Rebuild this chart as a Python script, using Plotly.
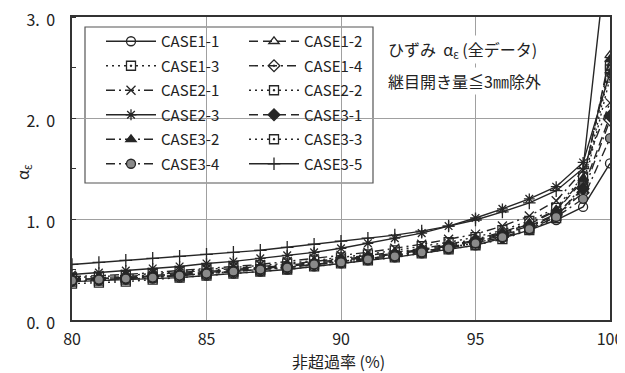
import plotly.graph_objects as go

x_vals = [80, 81, 82, 83, 84, 85, 86, 87, 88, 89, 90, 91, 92, 93, 94, 95, 96, 97, 98, 99, 100]

case1_1 = [0.38,0.39,0.40,0.41,0.42,0.44,0.46,0.48,0.50,0.53,0.56,0.59,0.62,0.66,0.70,0.74,0.81,0.89,0.99,1.12,1.55]
case1_2 = [0.40,0.41,0.42,0.44,0.46,0.48,0.50,0.52,0.54,0.57,0.60,0.63,0.66,0.70,0.74,0.79,0.86,0.95,1.08,1.38,2.62]
case1_3 = [0.42,0.43,0.44,0.46,0.48,0.50,0.52,0.54,0.56,0.59,0.62,0.65,0.69,0.73,0.77,0.82,0.89,0.98,1.11,1.42,2.52]
case1_4 = [0.39,0.40,0.41,0.43,0.44,0.46,0.48,0.50,0.52,0.55,0.58,0.61,0.64,0.68,0.72,0.77,0.84,0.92,1.04,1.26,1.98]
case2_1 = [0.43,0.44,0.45,0.47,0.49,0.51,0.53,0.55,0.58,0.61,0.64,0.67,0.71,0.75,0.80,0.85,0.93,1.03,1.18,1.48,2.15]
case2_2 = [0.36,0.37,0.38,0.40,0.42,0.44,0.46,0.48,0.50,0.53,0.56,0.59,0.62,0.66,0.70,0.74,0.80,0.89,1.01,1.30,2.40]
case2_3 = [0.45,0.47,0.49,0.51,0.53,0.56,0.58,0.61,0.64,0.67,0.71,0.76,0.81,0.86,0.93,1.01,1.10,1.20,1.32,1.56,2.45]
case3_1 = [0.40,0.41,0.42,0.43,0.45,0.47,0.49,0.51,0.53,0.56,0.59,0.62,0.65,0.69,0.73,0.78,0.85,0.93,1.05,1.30,2.02]
case3_2 = [0.41,0.42,0.43,0.45,0.47,0.49,0.51,0.53,0.55,0.58,0.61,0.64,0.67,0.71,0.75,0.80,0.87,0.96,1.09,1.40,2.58]
case3_3 = [0.38,0.39,0.40,0.42,0.44,0.46,0.48,0.50,0.52,0.55,0.58,0.61,0.64,0.68,0.72,0.76,0.83,0.91,1.03,1.33,2.48]
case3_4 = [0.39,0.40,0.41,0.42,0.44,0.46,0.48,0.50,0.52,0.55,0.57,0.60,0.63,0.67,0.71,0.76,0.82,0.90,1.02,1.20,1.80]
case3_5 = [0.55,0.57,0.59,0.61,0.63,0.65,0.67,0.69,0.72,0.75,0.78,0.81,0.84,0.88,0.93,0.99,1.07,1.16,1.28,1.50,3.90]

y_tickvals = [0, 1, 2, 3]
y_ticktext = ["0.\u2009\u20090", "1.\u2009\u20090", "2.\u2009\u20090", "3.\u2009\u20090"]
x_tickvals = [80, 85, 90, 95, 100]

INK = "#262626"
DASH = "9px,5px"
DASHDOT = "9px,4px,2px,4px"
DOT = "2px,4px"

series = [
    ("CASE1-1", case1_1, "solid", "circle-open", INK, "legend"),
    ("CASE1-2", case1_2, DASH, "triangle-up-open", INK, "legend2"),
    ("CASE1-3", case1_3, DOT, "square-open-dot", INK, "legend"),
    ("CASE1-4", case1_4, DASHDOT, "diamond-open-dot", INK, "legend2"),
    ("CASE2-1", case2_1, DASHDOT, "x-thin-open", INK, "legend"),
    ("CASE2-2", case2_2, DOT, "square-open-dot", INK, "legend2"),
    ("CASE2-3", case2_3, "solid", "asterisk-open", INK, "legend"),
    ("CASE3-1", case3_1, DASH, "diamond", INK, "legend2"),
    ("CASE3-2", case3_2, DASHDOT, "triangle-up-dot", INK, "legend"),
    ("CASE3-3", case3_3, DOT, "square-open-dot", INK, "legend2"),
    ("CASE3-4", case3_4, DASHDOT, "circle", "#8a8a8a", "legend"),
    ("CASE3-5", case3_5, "solid", "cross-thin-open", INK, "legend2"),
]

fig = go.Figure()
for i, (name, ys, dash, sym, fillc, leg) in enumerate(series):
    fig.add_trace(go.Scatter(
        x=x_vals, y=ys, name=name, mode="lines+markers",
        line=dict(color=INK, width=1.4, dash=dash),
        marker=dict(symbol=sym, size=9, color=fillc,
                    line=dict(color=INK, width=1.3)),
        legend=leg, legendgroup=name,
    ))

# page body has an 8px margin: screen = figure + 8
OFF = 8
W, H = 617, 365
# plot area on screen: x 72..610, y 17..320
L, T = 72 - OFF, 17 - OFF
R = W - (610 - OFF)
B = H - (320 - OFF)
pw, ph = W - L - R, H - T - B

def sx(px):
    return (px - OFF - L) / pw

def sy(py):
    return (H - B - (py - OFF)) / ph

fig.add_shape(type="rect", xref="paper", yref="paper",
              x0=sx(85), x1=sx(373), y0=sy(183), y1=sy(27),
              line=dict(color="#555", width=1.2), fillcolor="white",
              layer="between")

legend_font = dict(family="Noto Sans CJK JP", size=15, color="#222")
fig.update_layout(
    width=W, height=H,
    margin=dict(l=L, r=R, t=T, b=B, autoexpand=False),
    paper_bgcolor="white", plot_bgcolor="white",
    showlegend=True,
    legend=dict(x=sx(101), y=sy(25), xanchor="left", yanchor="top",
                bgcolor="rgba(0,0,0,0)", borderwidth=0, font=legend_font,
                tracegroupgap=2, itemwidth=50),
    legend2=dict(x=sx(244), y=sy(25), xanchor="left", yanchor="top",
                 bgcolor="rgba(0,0,0,0)", borderwidth=0, font=legend_font,
                 tracegroupgap=2, itemwidth=50),
    font=dict(family="Noto Sans CJK JP", color="#222"),
)

tick_font = dict(family="Noto Sans CJK JP", size=16, color="#222")
fig.update_xaxes(range=[80, 100], tickvals=x_tickvals,
                 showgrid=True, gridcolor="#a0a0a0", gridwidth=1,
                 showline=True, linecolor="#333", linewidth=1.5, mirror=True,
                 ticks="", zeroline=False, automargin=False,
                 tickfont=tick_font, ticklabelstandoff=4,
                 ticklabeloverflow="allow")
fig.update_yaxes(range=[0, 3], tickvals=y_tickvals, ticktext=y_ticktext,
                 showgrid=True, gridcolor="#a0a0a0", gridwidth=1,
                 showline=True, linecolor="#333", linewidth=1.5, mirror=True,
                 ticks="", zeroline=False, automargin=False,
                 minor=dict(dtick=0.5, ticks="inside", ticklen=4, tickcolor="#333", showgrid=False),
                 tickfont=tick_font, ticklabelstandoff=12, ticklabelshift=3,
                 ticklabeloverflow="allow")

# axis titles
fig.add_annotation(xref="paper", yref="paper", x=sx(338), y=sy(361),
                   xanchor="center", yanchor="middle", showarrow=False,
                   text="非超過率 (%)",
                   font=dict(family="Noto Sans CJK JP", size=16, color="#222"))
fig.add_annotation(xref="paper", yref="paper", x=sx(22), y=sy(172),
                   xanchor="center", yanchor="middle", showarrow=False,
                   text="α<sub>ε</sub>", textangle=-90,
                   font=dict(family="Noto Sans CJK JP", size=16, color="#222"))

fig.add_annotation(xref="paper", yref="paper", x=sx(386), y=sy(50),
                   xanchor="left", yanchor="middle", showarrow=False,
                   text="ひずみ  α<sub>ε</sub> (全データ)", bgcolor="white",
                   font=dict(family="Noto Sans CJK JP", size=16, color="#222"))
fig.add_annotation(xref="paper", yref="paper", x=sx(386), y=sy(81),
                   xanchor="left", yanchor="middle", showarrow=False,
                   text="継目開き量≦3㎜除外", bgcolor="white",
                   font=dict(family="Noto Sans CJK JP", size=16, color="#222"))

fig.write_html("out.html")
